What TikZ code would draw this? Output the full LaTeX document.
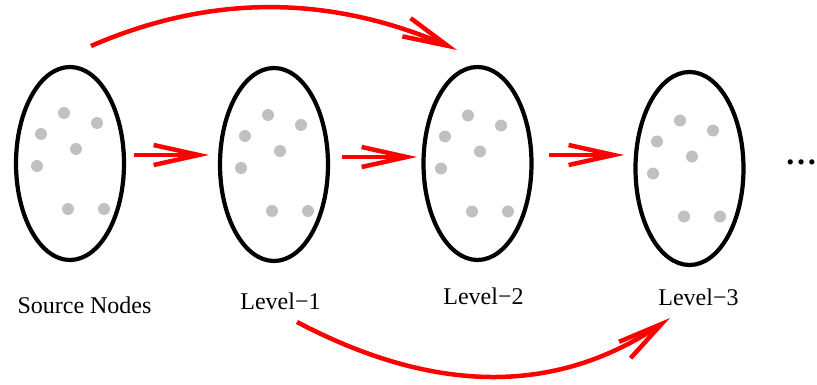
\documentclass[tikz,border=0pt]{standalone}
\usepackage{fontspec}
\setmainfont{Liberation Serif}
\usetikzlibrary{
    positioning,
    shapes.geometric,
    arrows.meta,
    bending
    }
\definecolor{seedgray}{RGB}{192,192,192}

\begin{document}
\begin{tikzpicture}[x=1pt, y=-1pt]
\tikzset{layer/.style =
        {
            shape=ellipse,
            line width=4.2pt,
            draw=black,
            minimum width=108pt,
            minimum height=193pt,
            inner sep=0pt,
            outer sep=0pt
        }
}

\tikzset{seed/.style = { fill=seedgray } }

\tikzset{lbl/.style =
        {
            inner sep=0pt,
            font=\rmfamily\fontsize{24}{28}\selectfont
        }
}

\tikzset{hop/.style = {
            line width=4.5pt,
            red,
            -{Straight Barb[length=45pt, width=20pt]}
        }
}
		\useasboundingbox (0,0) rectangle (817,385);

		\foreach \name / \x / \y in
			{src/70/163.5,
				lv1/274/164.5,
				lv2/477.5/163.5,
				lv3/689.5/168.5}
		\node[layer] at (\x,\y) (\name) {};

		\foreach \name / \dx / \dy in {src/0/0, lv1/0/1, lv2/-3.5/2.5, lv3/-3.5/2.5}
			\foreach \px / \py in {-6/-50.5, 27/-40.5, -29/-29.5, 6/-14.5, -33/2.5, -2/45.5, 34/45.5}
				\fill[seed] ([shift={(\px+\dx,\py+\dy)}]\name.center) circle [radius=6];

		\foreach \name / \x / \y / \txt in
			{src/84.5/305/Source Nodes,
				lv1/280.5/301/Level−1,
				lv2/483.5/296.5/Level−2,
				lv3/698.5/297/Level−3}
		\node[lbl] at (\x,\y) (\name-lbl) {\txt};

		\node[lbl, anchor=base, font=\rmfamily\bfseries\fontsize{32}{36}\selectfont] at (801,165) (more) {…};

		\draw[hop] ([shift={(10,-8.5)}]src.east) -- ([shift={(-11,-9.5)}]lv1.west);
		\draw[hop] ([shift={(14,-7.5)}]lv1.east) -- ([shift={(-6.5,-6.5)}]lv2.west);
		\draw[hop] ([shift={(17.5,-8.5)}]lv2.east) -- ([shift={(-11.5,-13.5)}]lv3.west);

		\draw[hop] ([shift={(21,-21)}]src.north) .. controls +(122,-53) and +(-122,-56) .. ([shift={(-20.5,-17)}]lv2.north);
		\draw[hop] ([shift={(23,61)}]lv1.south) .. controls +(142,74.7) and +(-106.7,77.3) .. ([shift={(-19.5,53)}]lv3.south);

	\end{tikzpicture}
\end{document}
